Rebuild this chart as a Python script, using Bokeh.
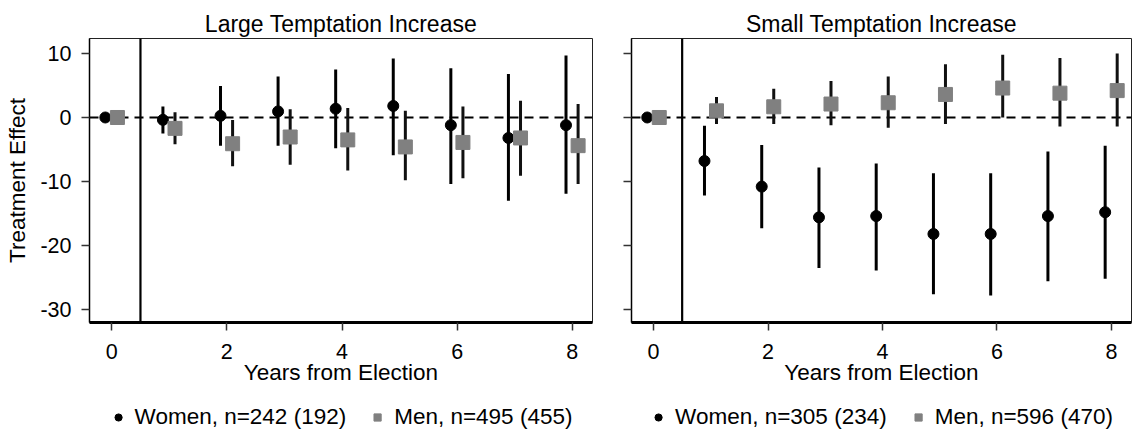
from bokeh.plotting import figure
from bokeh.layouts import row, column
from bokeh.models import ColumnDataSource, Span, FixedTicker, Range1d, Legend, LegendItem
from bokeh.transform import dodge
from bokeh.embed import file_html
from bokeh.resources import INLINE

years = [0, 1, 2, 3, 4, 5, 6, 7, 8]
y_ticks = [-30, -20, -10, 0, 10]
y_tick_labels = ["-30", "-20", "-10", "0", "10"]
x_ticks = [0, 2, 4, 6, 8]

titles = ["Large Temptation Increase", "Small Temptation Increase"]

large_women = [0.0, -0.37, 0.26, 0.95, 1.37, 1.8, -1.2, -3.2, -1.2]
large_women_lo = [0.0, -2.5, -4.4, -4.4, -4.8, -5.9, -10.4, -13.0, -11.9]
large_women_hi = [0.0, 1.7, 4.9, 6.4, 7.5, 9.2, 7.7, 6.8, 9.7]
large_men = [0.0, -1.7, -4.1, -3.05, -3.5, -4.6, -3.9, -3.2, -4.4]
large_men_lo = [0.0, -4.2, -7.6, -7.4, -8.3, -9.8, -9.5, -9.1, -10.4]
large_men_hi = [0.0, 0.8, -0.4, 1.3, 1.5, 1.05, 1.7, 2.6, 2.1]

small_women = [0.0, -6.8, -10.8, -15.6, -15.4, -18.2, -18.2, -15.4, -14.8]
small_women_lo = [0.0, -12.2, -17.3, -23.5, -23.9, -27.6, -27.8, -25.6, -25.2]
small_women_hi = [0.0, -1.3, -4.3, -7.8, -7.2, -8.7, -8.7, -5.3, -4.4]
small_men = [0.0, 1.04, 1.67, 2.1, 2.3, 3.6, 4.6, 3.8, 4.2]
small_men_lo = [0.0, -1.0, -1.0, -1.2, -1.6, -1.0, 0.0, -1.4, -1.4]
small_men_hi = [0.0, 3.2, 4.5, 5.7, 6.4, 8.3, 9.8, 9.3, 10.0]

large_labels = ["Women, n=242 (192)", "Men, n=495 (455)"]
small_labels = ["Women, n=305 (234)", "Men, n=596 (470)"]

FONT = "Liberation Sans"
FS = "21.5px"
FS_LABEL = "22.5px"
FS_TITLE = "23px"
MEN_GRAY = "#808080"
MAIN_H = 395
LEG_H = 44


def make_panel(title, women, wlo, whi, men, mlo, mhi, first, width, bl, br):
    p = figure(width=width, height=MAIN_H, output_backend="svg", toolbar_location=None,
               x_range=Range1d(-0.385, 8.35), y_range=Range1d(-32.03, 12.34),
               min_border_left=bl, min_border_right=br, min_border_top=38,
               min_border_bottom=MAIN_H - 322, title=title)
    p.background_fill_color = "white"
    p.border_fill_color = "white"
    p.outline_line_color = "#222222"
    p.outline_line_width = 1
    p.xgrid.visible = False
    p.ygrid.visible = False

    p.title.text_font = FONT
    p.title.text_font_style = "normal"
    p.title.text_font_size = FS_TITLE
    p.title.align = "center"
    p.title.text_color = "black"
    p.title.standoff = 4

    p.xaxis.ticker = FixedTicker(ticks=x_ticks)
    p.yaxis.ticker = FixedTicker(ticks=y_ticks)
    for ax in (p.xaxis[0], p.yaxis[0]):
        ax.minor_tick_line_color = None
        ax.major_tick_in = 0
        ax.major_tick_out = 8
        ax.major_tick_line_color = "#333333"
        ax.major_tick_line_width = 1.5
        ax.axis_line_color = "black"
        ax.major_label_text_font = FONT
        ax.major_label_text_font_size = FS
        ax.major_label_text_color = "black"
        ax.axis_label_text_font = FONT
        ax.axis_label_text_font_style = "normal"
        ax.axis_label_text_font_size = FS_LABEL
        ax.axis_label_text_color = "black"
    p.xaxis.axis_line_width = 3
    p.yaxis.axis_line_width = 1.5
    p.xaxis.axis_label = "Years from Election"
    p.xaxis.major_label_standoff = 13
    p.xaxis.axis_label_standoff = -2
    if first:
        p.yaxis.axis_label = "Treatment Effect"
        p.yaxis.major_label_standoff = 10
        p.yaxis.axis_label_standoff = 7
        p.yaxis.major_label_overrides = {t: s for t, s in zip(y_ticks, y_tick_labels)}
    else:
        p.yaxis.major_label_overrides = {t: " " for t in y_ticks}
        p.yaxis.major_label_standoff = 0

    p.add_layout(Span(location=0, dimension="width", line_color="black",
                      line_width=2.2, line_dash="9 6", level="underlay"))
    p.add_layout(Span(location=0.5, dimension="height", line_color="black",
                      line_width=2.2, level="underlay"))

    src = ColumnDataSource(dict(year=years, w=women, wlo=wlo, whi=whi,
                                m=men, mlo=mlo, mhi=mhi))
    p.segment(x0=dodge("year", -0.11), y0="wlo", x1=dodge("year", -0.11), y1="whi",
              source=src, line_color="black", line_width=3)
    p.segment(x0=dodge("year", 0.1), y0="mlo", x1=dodge("year", 0.1), y1="mhi",
              source=src, line_color="#111111", line_width=3)
    p.scatter(x=dodge("year", -0.11), y="w", source=src, marker="circle",
              size=11, fill_color="black", line_color="black")
    p.scatter(x=dodge("year", 0.1), y="m", source=src, marker="square",
              size=14, fill_color=MEN_GRAY, line_color=MEN_GRAY)
    return p


def make_legend(labels, width, bl, br):
    q = figure(width=width, height=LEG_H, output_backend="svg", toolbar_location=None,
               x_range=Range1d(0, 1), y_range=Range1d(0, 1),
               min_border_left=bl, min_border_right=br, min_border_top=0,
               min_border_bottom=0)
    q.axis.visible = False
    q.xgrid.visible = False
    q.ygrid.visible = False
    q.outline_line_color = None
    q.background_fill_color = "white"
    q.border_fill_color = "white"
    # legend proxies: one point each, placed outside the visible range
    wr = q.scatter(x=[5], y=[5], marker="circle", size=13,
                   fill_color="black", line_color="black")
    mr = q.scatter(x=[5], y=[5], marker="square", size=14,
                   fill_color=MEN_GRAY, line_color=MEN_GRAY)
    legend = Legend(items=[LegendItem(label=labels[0], renderers=[wr]),
                           LegendItem(label=labels[1], renderers=[mr])],
                    orientation="horizontal", location="center",
                    border_line_color=None, background_fill_alpha=0,
                    label_text_font=FONT, label_text_font_size=FS_LABEL,
                    label_text_color="black", spacing=22, glyph_width=18,
                    glyph_height=18, label_standoff=8, margin=0, padding=2,
                    label_height=22)
    q.add_layout(legend)
    return q


p1 = make_panel(titles[0], large_women, large_women_lo, large_women_hi,
                large_men, large_men_lo, large_men_hi, True, 598, 89, 6)
p2 = make_panel(titles[1], small_women, small_women_lo, small_women_hi,
                small_men, small_men_lo, small_men_hi, False, 534, 33, 1)
l1 = make_legend(large_labels, 598, 89, 6)
l2 = make_legend(small_labels, 534, 33, 1)

layout = column(row(p1, p2, spacing=0), row(l1, l2, spacing=0), spacing=0)
open("out.html", "w").write(file_html(layout, INLINE))
